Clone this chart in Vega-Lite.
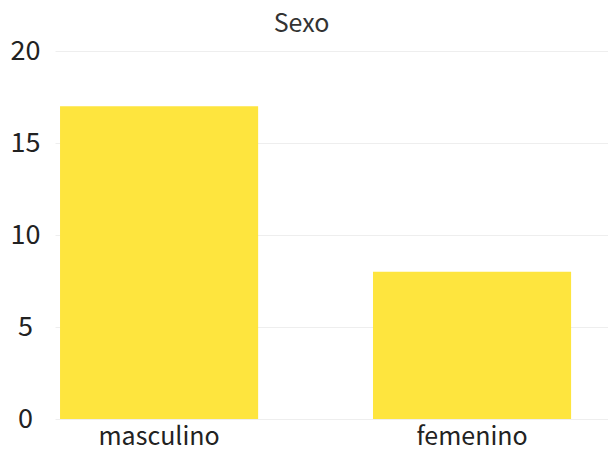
{
  "$schema": "https://vega.github.io/schema/vega-lite/v6.json",
  "autosize": "none",
  "width": 553,
  "height": 368,
  "padding": {"left": 55, "top": 51, "right": 0, "bottom": 31},
  "background": "white",
  "title": {"text": "Sexo", "anchor": "middle", "dx": -30, "offset": 0, "fontSize": 25, "fontWeight": "normal", "color": "#333333", "font": "Noto Sans CJK JP"},
  "data": {"values": [
    {"sexo": "masculino", "n": 17},
    {"sexo": "femenino", "n": 8}
  ]},
  "mark": {"type": "bar", "color": "#FEE53E"},
  "encoding": {
    "x": {"field": "sexo", "type": "nominal", "sort": null, "title": null,
      "scale": {"paddingInner": 0.367, "paddingOuter": 0.067, "align": 0.12},
      "axis": {"labelAngle": 0, "domain": false, "ticks": false, "grid": false, "labelFontSize": 25, "labelColor": "#222222", "labelFont": "Noto Sans CJK JP", "labelPadding": 5}},
    "y": {"field": "n", "type": "quantitative", "title": null,
      "scale": {"domain": [0, 20]},
      "axis": {"values": [0, 5, 10, 15, 20], "domain": false, "ticks": false, "gridColor": "#eeeeee", "labelFontSize": 27, "labelColor": "#222222", "labelFont": "Noto Sans CJK JP", "labelAlign": "center", "labelPadding": 30}}
  },
  "config": {"view": {"stroke": null}}
}
